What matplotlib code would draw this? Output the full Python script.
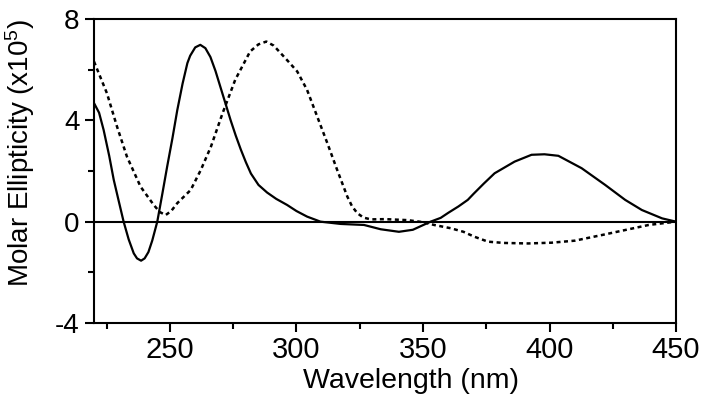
import matplotlib
matplotlib.use("Agg")
import matplotlib.pyplot as plt
from matplotlib.ticker import MultipleLocator

plt.rcParams['font.family'] = ['Liberation Sans', 'DejaVu Sans']
plt.rcParams['mathtext.fontset'] = 'custom'
plt.rcParams['mathtext.rm'] = 'Liberation Sans'
plt.rcParams['mathtext.default'] = 'rm'
plt.rcParams['axes.unicode_minus'] = False

# solid trace
wl_solid = [220, 222, 223.8, 226, 227.8, 229.8, 231.7, 233.7, 235.7, 237,
            238.6, 240, 241.5, 243, 245, 247, 248.9, 251, 252.9, 255,
            256.9, 258, 260, 262, 264, 266, 268, 270, 272, 274,
            276, 278, 280, 282, 285, 288.4, 292, 296.3, 300, 304.2,
            309.5, 317.5, 326.7, 333.3, 340.5, 346, 353, 357, 360, 364,
            367.7, 370, 374, 378.3, 386.2, 392.9, 398, 403.5, 412.7, 422,
            429.9, 436.5, 444.5, 450]
cd_solid = [4.68, 4.3, 3.62, 2.6, 1.65, 0.8, 0, -0.7, -1.25, -1.45,
            -1.54, -1.45, -1.2, -0.75, 0, 1.1, 2.17, 3.3, 4.4, 5.45,
            6.26, 6.55, 6.88, 6.98, 6.85, 6.5, 5.95, 5.3, 4.65, 4.0,
            3.4, 2.85, 2.35, 1.9, 1.45, 1.15, 0.9, 0.66, 0.42, 0.2,
            0, -0.09, -0.13, -0.3, -0.4, -0.32, 0, 0.15, 0.35, 0.6,
            0.86, 1.1, 1.5, 1.91, 2.37, 2.64, 2.66, 2.6, 2.11, 1.45,
            0.86, 0.46, 0.13, 0]

# dashed trace
wl_dash = [220, 225.1, 229.1, 233, 238.4, 243.6, 246, 248.3, 250.5, 252.9,
           258.2, 262.2, 266.2, 270.8, 275.8, 281.7, 285, 288.1, 291, 293.7,
           297, 300.3, 304.2, 308.2, 312.2, 316.1, 320.1, 322, 324.1, 326.5,
           329.4, 335, 344, 350, 354.4, 361, 366, 370.2, 375.7, 382,
           391.6, 400.8, 410, 420.6, 429.9, 439.2, 450]
cd_dash = [6.32, 5.07, 3.75, 2.57, 1.38, 0.66, 0.38, 0.26, 0.42, 0.73,
           1.25, 2.04, 2.96, 4.28, 5.6, 6.72, 7.0, 7.11, 6.95, 6.66,
           6.3, 5.93, 5.2, 4.15, 3.1, 2.04, 0.99, 0.6, 0.33, 0.16,
           0.09, 0.1, 0.06, -0.02, -0.13, -0.26, -0.4, -0.59, -0.79, -0.84,
           -0.86, -0.83, -0.75, -0.53, -0.33, -0.13, 0]

x_ticks = [250, 300, 350, 400, 450]
y_ticks = [-4, 0, 4, 8]

fig = plt.figure(figsize=(7.09, 4.0), dpi=100)
ax = fig.add_axes([0.1326, 0.1925, 0.8209, 0.76])

ax.axhline(0, color='black', lw=1.5, zorder=1)
ax.plot(wl_solid, cd_solid, color='black', lw=1.6, solid_joinstyle='round')
ax.plot(wl_dash, cd_dash, color='black', lw=1.8, linestyle=(0, (1.6, 1.4)))

ax.set_xlim(220, 450)
ax.set_ylim(-4, 8)
ax.set_xticks(x_ticks)
ax.set_yticks(y_ticks)
ax.xaxis.set_minor_locator(MultipleLocator(25))
ax.yaxis.set_minor_locator(MultipleLocator(2))

for s in ax.spines.values():
    s.set_linewidth(1.5)
ax.tick_params(which='major', direction='out', length=6.5, width=1.5, pad=3)
ax.tick_params(which='minor', direction='out', length=4, width=1.5)
ax.tick_params(axis='x', labelsize=21)
ax.tick_params(axis='y', labelsize=20, pad=4)

ax.set_xlabel('Wavelength (nm)', fontsize=20.5)
ax.xaxis.set_label_coords(0.545, -0.148, transform=ax.transAxes)
ax.xaxis.label.set_va('top')
ax.set_ylabel('Molar Ellipticity (x10$^5$)', fontsize=20)
ax.yaxis.set_label_coords(-0.098, 0.56, transform=ax.transAxes)

fig.savefig('out.png', dpi=100)
